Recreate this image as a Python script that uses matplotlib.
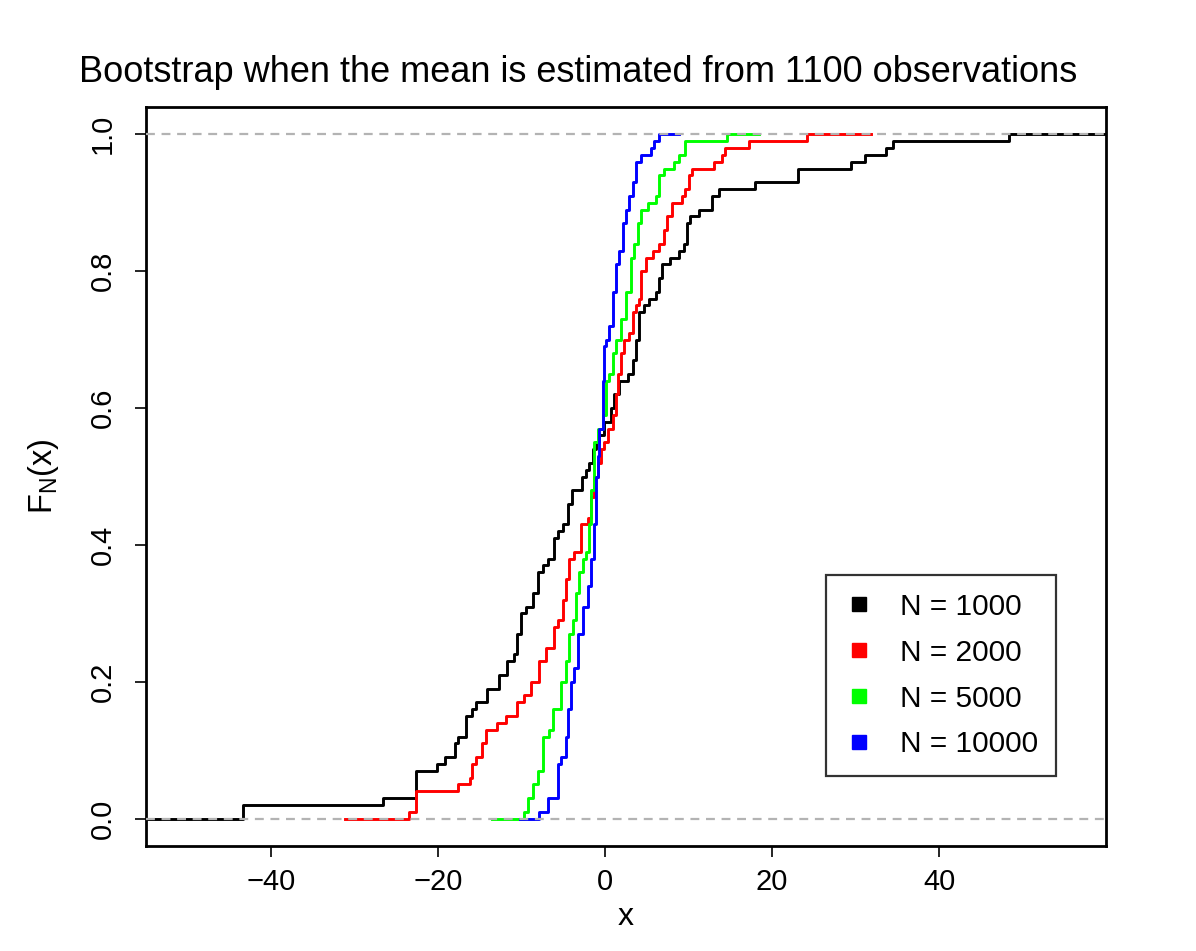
import numpy as np
import matplotlib
matplotlib.use("Agg")
import matplotlib.pyplot as plt
from matplotlib.lines import Line2D

plt.rcParams['font.family'] = ['Liberation Sans', 'DejaVu Sans']

# step positions (x) and ecdf level just after each step
black_x = [-43.4, -26.6, -22.6, -20.1, -19.2, -18.0, -17.6, -16.7, -15.9, -15.5,
           -14.1, -12.7, -11.7, -10.9, -10.5, -10.1, -9.5, -8.7, -8.1, -7.5,
           -6.9, -6.1, -5.7, -5.0, -4.5, -4.0, -2.8, -2.3, -1.9, -1.5,
           -1.1, -0.7, -0.1, 0.7, 1.1, 1.7, 2.7, 3.3, 3.7, 4.1,
           4.7, 5.3, 6.1, 6.5, 6.8, 7.8, 8.8, 9.4, 9.8, 10.2,
           11.2, 12.8, 13.6, 18.0, 23.1, 29.4, 31.1, 33.6, 34.5, 48.4]
black_f = [0.02, 0.03, 0.07, 0.08, 0.09, 0.11, 0.12, 0.15, 0.16, 0.17,
           0.19, 0.21, 0.23, 0.24, 0.27, 0.30, 0.31, 0.33, 0.36, 0.37,
           0.38, 0.41, 0.42, 0.43, 0.46, 0.48, 0.50, 0.51, 0.52, 0.54,
           0.55, 0.56, 0.58, 0.60, 0.62, 0.64, 0.65, 0.67, 0.70, 0.74,
           0.75, 0.76, 0.77, 0.79, 0.81, 0.82, 0.83, 0.84, 0.87, 0.88,
           0.89, 0.91, 0.92, 0.93, 0.95, 0.96, 0.97, 0.98, 0.99, 1.00]

red_x = [-23.5, -22.6, -17.6, -16.2, -15.9, -15.5, -14.7, -14.3, -12.9, -11.9,
         -10.5, -9.7, -8.9, -7.9, -7.1, -6.1, -5.7, -5.1, -4.7, -4.3,
         -3.7, -2.9, -2.1, -1.7, -1.3, -0.9, -0.5, -0.1, 0.3, 0.9,
         1.3, 1.6, 1.9, 2.3, 2.9, 3.3, 3.7, 4.1, 4.3, 4.9,
         5.7, 6.5, 7.0, 7.4, 8.0, 9.2, 9.6, 10.0, 10.4, 13.0,
         14.0, 14.4, 17.2, 24.2]
red_f = [0.01, 0.04, 0.05, 0.06, 0.08, 0.09, 0.11, 0.13, 0.14, 0.15,
         0.17, 0.18, 0.20, 0.23, 0.25, 0.28, 0.29, 0.32, 0.35, 0.38,
         0.39, 0.43, 0.44, 0.47, 0.50, 0.52, 0.54, 0.55, 0.57, 0.59,
         0.62, 0.65, 0.68, 0.70, 0.71, 0.74, 0.75, 0.76, 0.80, 0.82,
         0.83, 0.84, 0.86, 0.88, 0.90, 0.91, 0.92, 0.94, 0.95, 0.96,
         0.97, 0.98, 0.99, 1.00]

green_x = [-9.7, -9.3, -8.7, -8.1, -7.5, -6.7, -6.3, -5.3, -4.7, -4.3,
           -3.9, -3.5, -3.1, -2.7, -2.3, -1.9, -1.7, -1.3, -0.9, -0.3,
           0.1, 0.5, 0.9, 1.3, 1.9, 2.5, 3.1, 3.5, 3.9, 4.3,
           5.1, 6.1, 6.5, 7.0, 8.2, 8.8, 9.6, 14.6]
green_f = [0.01, 0.03, 0.05, 0.07, 0.12, 0.13, 0.16, 0.20, 0.23, 0.27,
           0.29, 0.33, 0.36, 0.38, 0.39, 0.43, 0.48, 0.55, 0.57, 0.59,
           0.64, 0.65, 0.68, 0.70, 0.73, 0.77, 0.82, 0.84, 0.87, 0.89,
           0.90, 0.91, 0.94, 0.95, 0.96, 0.97, 0.99, 1.00]

blue_x = [-7.9, -6.9, -5.7, -5.3, -4.7, -4.5, -4.1, -3.7, -3.3, -2.7,
          -2.1, -1.7, -1.3, -1.1, -0.9, -0.7, -0.3, -0.1, 0.1, 0.5,
          0.9, 1.3, 1.7, 2.1, 2.5, 2.9, 3.3, 3.7, 4.3, 5.5,
          5.9, 6.5]
blue_f = [0.01, 0.03, 0.08, 0.09, 0.12, 0.16, 0.20, 0.22, 0.27, 0.31,
          0.34, 0.38, 0.43, 0.50, 0.53, 0.57, 0.64, 0.69, 0.70, 0.72,
          0.77, 0.81, 0.83, 0.87, 0.89, 0.91, 0.93, 0.96, 0.97, 0.98,
          0.99, 1.00]

labels = ["N = 1000", "N = 2000", "N = 5000", "N = 10000"]
colors = ["black", "red", "#00FF00", "blue"]
title = "Bootstrap when the mean is estimated from 1100 observations"


def draw_ecdf(ax, xs, fs, color):
    xs = np.asarray(xs)
    rng = xs[-1] - xs[0]
    ext = 0.16 * rng  # same tails as R's plot.stepfun
    px = np.concatenate([[xs[0] - ext], xs, [xs[-1] + ext]])
    py = np.concatenate([[0.0], fs, [1.0]])
    ax.step(px, py, where="post", color=color, lw=2.1, zorder=2)


fig = plt.figure(figsize=(11.96, 9.51), dpi=100)
ax = fig.add_axes([146 / 1196, 1 - 846 / 951, 960 / 1196, 739 / 951])

series = [(black_x, black_f), (red_x, red_f), (green_x, green_f), (blue_x, blue_f)]
for (xs, fs), c in zip(series, colors):
    draw_ecdf(ax, xs, fs, c)

ax.axhline(0, color="#B3B3B3", lw=1.6, ls=(0, (4, 3)), zorder=3)
ax.axhline(1, color="#B3B3B3", lw=1.6, ls=(0, (4, 3)), zorder=3)

# R style limits: first curve range +- 8%, then 4% padding
rx = black_x[-1] - black_x[0]
lo, hi = black_x[0] - 0.08 * rx, black_x[-1] + 0.08 * rx
pad = 0.04 * (hi - lo)
ax.set_xlim(lo - pad, hi + pad)
ax.set_ylim(-0.04, 1.04)

ax.set_xticks([-40, -20, 0, 20, 40])
ax.set_xticklabels(["\u221240", "\u221220", "0", "20", "40"])
ax.set_yticks([0.0, 0.2, 0.4, 0.6, 0.8, 1.0])
ax.set_yticklabels(["0.0", "0.2", "0.4", "0.6", "0.8", "1.0"], rotation=90, va="center")
ax.tick_params(axis="both", labelsize=21, length=8, width=1.2, direction="out")
ax.tick_params(axis="x", pad=8)
ax.tick_params(axis="y", pad=13)

for sp in ax.spines.values():
    sp.set_linewidth(2.0)

ax.set_xlabel("x", fontsize=23, labelpad=4)
ax.set_ylabel(r"F$_{\mathregular{N}}$(x)", fontsize=23.5, labelpad=20)

fig.text(578 / 1196, 1 - 72 / 951, title, fontsize=26, ha="center", va="center")

handles = [Line2D([], [], ls="none", marker="s", markersize=10, color=c) for c in colors]
leg = ax.legend(handles, labels, loc="upper left", bbox_to_anchor=(0.708, 0.367),
                fontsize=21.5, frameon=True, fancybox=False, edgecolor="black",
                handlelength=1.0, handletextpad=0.9, labelspacing=0.6,
                borderpad=0.6, borderaxespad=0)
leg.get_frame().set_linewidth(1.6)

fig.savefig("out.png", dpi=100)
